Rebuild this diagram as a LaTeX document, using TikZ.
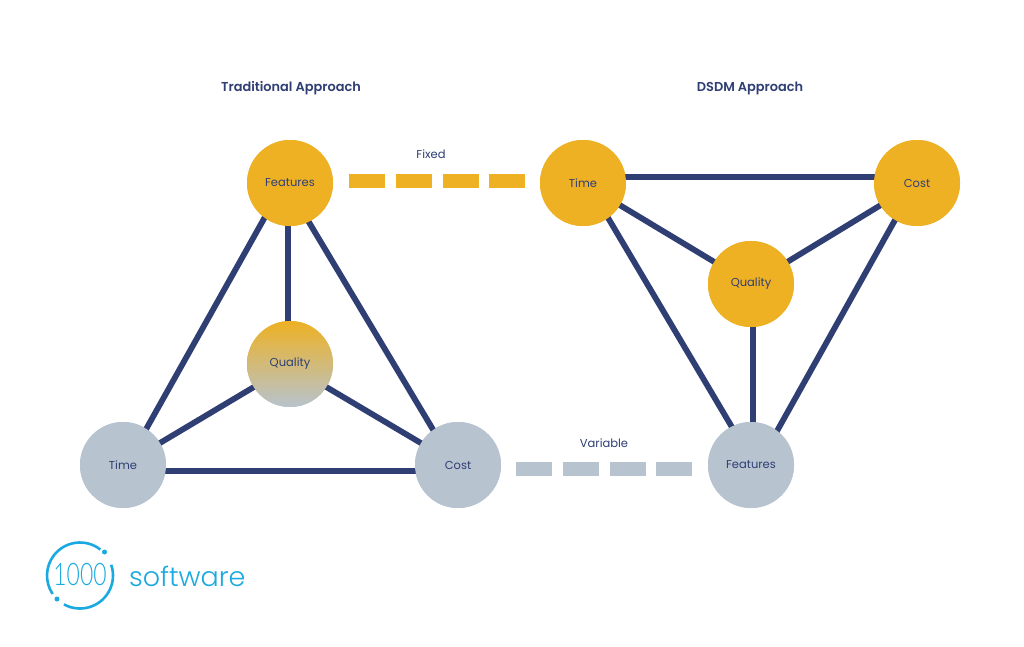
\documentclass[tikz,border=0pt]{standalone}
\usepackage{fontspec}
\setmainfont{Poppins}
\newfontfamily\logofont{Poppins Light}
\newfontfamily\logothin{Lato Light}
\newfontfamily\headfont{Poppins SemiBold}
\definecolor{navy}{HTML}{2F3E73}
\definecolor{gold}{HTML}{EDB123}
\definecolor{slate}{HTML}{B7C3CE}
\definecolor{logoblue}{HTML}{1AA9E0}
\begin{document}
\begin{tikzpicture}[x=1pt,y=-1pt,
  ball/.style={circle,minimum size=86pt,inner sep=0pt,outer sep=0pt,text=navy,font=\fontsize{11.5}{13}\selectfont},
  goldball/.style={ball,fill=gold},
  slateball/.style={ball,fill=slate},
  mixball/.style={ball,top color=gold,bottom color=slate},
  edge/.style={draw=navy,line width=5.8pt},
  bardash/.style={line width=14.5pt,dash pattern=on 36pt off 10.8pt},
  heading/.style={text=navy,font=\headfont\fontsize{12.9}{15}\selectfont},
  caption/.style={text=navy,font=\fontsize{11.5}{13}\selectfont},
  ring/.style={draw=logoblue,line width=2.6pt},
  dotmark/.style={circle,fill=logoblue,minimum size=5pt,inner sep=0pt}]
\useasboundingbox[fill=white] (0,0) rectangle (1024,646);
% anchors of balls
\node[goldball,name=lf] at (290,183) {};
\node[mixball,name=lq] at (290,364) {};
\node[slateball,name=lt] at (123,465) {};
\node[slateball,name=lc] at (458,465) {};
\node[goldball,name=rt] at (583,183) {};
\node[goldball,name=rc] at (917,183) {};
\node[goldball,name=rq] at (751,284) {};
\node[slateball,name=rf] at (751,465) {};
% connectors
\draw[edge] ([xshift=-2]lf.center) -- ([xshift=-2]lq.center);
\draw[edge] ([xshift=-6]lf.center) -- ([xshift=3]lt.center);
\draw[edge] ([xshift=-4.5]lf.center) -- ([xshift=-3.8]lc.center);
\draw[edge] ([yshift=-1.5]lq.center) -- (lt.center);
\draw[edge] ([yshift=-1.5]lq.center) -- (lc.center);
\draw[edge] ([yshift=-6]lt.center) -- ([yshift=-6]lc.center);
\draw[edge] ([yshift=6]rt.center) -- ([yshift=6]rc.center);
\draw[edge] (rt.center) -- (rq.center);
\draw[edge] (rc.center) -- (rq.center);
\draw[edge] ([xshift=2]rq.center) -- ([xshift=2]rf.center);
\draw[edge] ([xshift=4.4]rt.center) -- ([xshift=3.4]rf.center);
\draw[edge] ([xshift=-1.3]rc.center) -- ([xshift=7]rf.center);
% balls again on top, with their texts
\node[goldball] at (lf.center) {Features};
\node[mixball] at (lq.center) {Quality};
\node[slateball] at (lt.center) {Time};
\node[slateball] at (lc.center) {Cost};
\node[goldball] at (rt.center) {Time};
\node[goldball] at (rc.center) {Cost};
\node[goldball] at (rq.center) {Quality};
\node[slateball] at (rf.center) {Features};
% dashed bars
\draw[bardash,draw=gold,shorten <=16pt,shorten >=14pt] ([yshift=2]lf.east) -- ([yshift=2]rt.west);
\draw[bardash,draw=slate,shorten <=15pt,shorten >=16pt] ([yshift=-4]lc.east) -- ([yshift=-4]rf.west);
% labels
\node[heading,name=h1] at (291,88) {Traditional Approach};
\node[heading,name=h2] at (750,88) {DSDM Approach};
\node[caption,name=c1] at (431,154) {Fixed};
\node[caption,name=c2] at (604,443) {Variable};
% logo
\draw[ring] (80,575.5) ++(-52:33) arc[start angle=-52,end angle=-214,radius=33];
\draw[ring] (80,575.5) ++(119:33) arc[start angle=119,end angle=-19,radius=33];
\node[dotmark,name=d1] at (104.5,552) {};
\node[dotmark,name=d2] at (57,599) {};
\node[name=l1,text=logoblue,font=\logothin\fontsize{31}{33}\selectfont] at (80,575) {\scalebox{.74}[1]{1000}};
\node[name=l2,text=logoblue,anchor=west,inner sep=0pt,font=\logofont\fontsize{27}{29}\selectfont] at (129,576) {software};
\end{tikzpicture}
\end{document}
